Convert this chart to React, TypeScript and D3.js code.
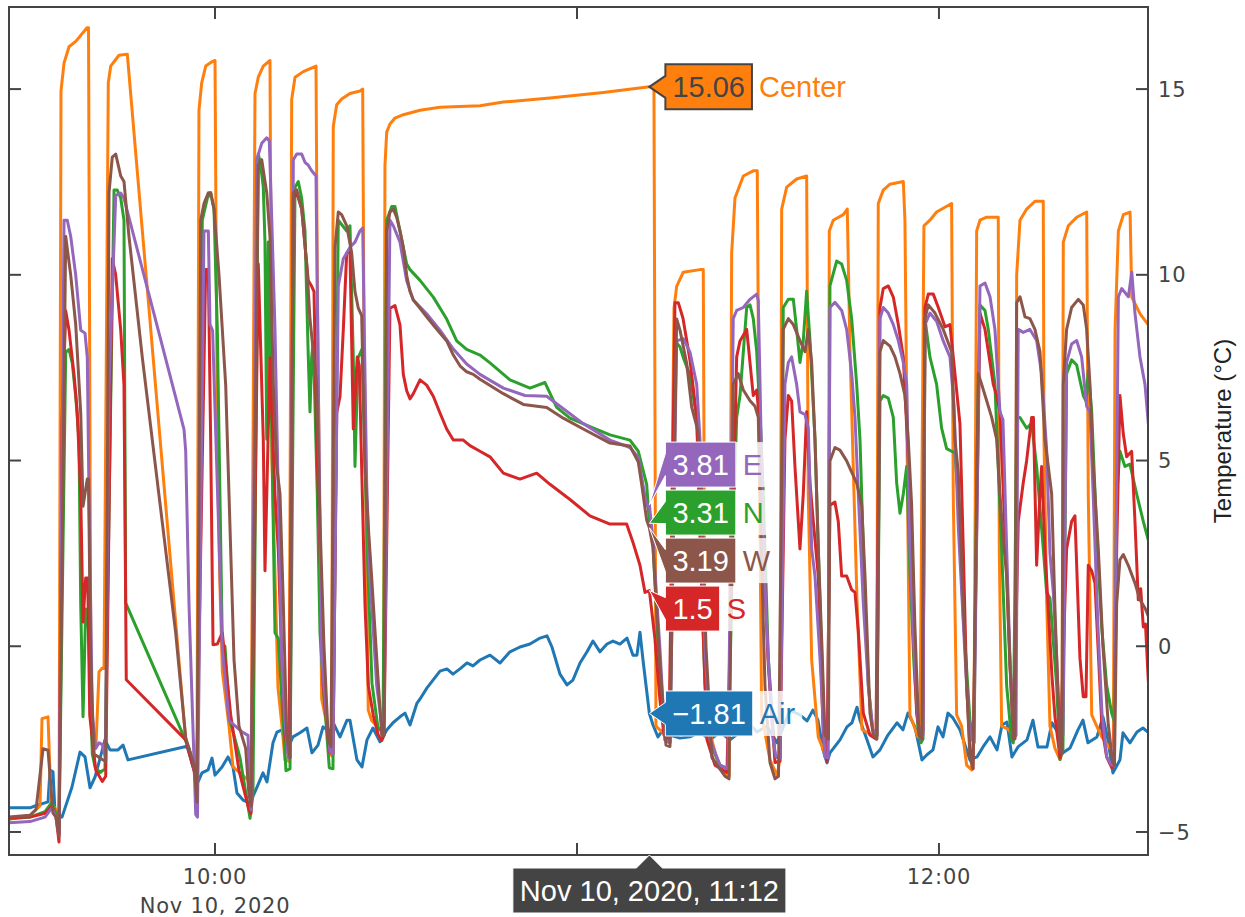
import React, { useMemo } from "react";
import * as d3 from "d3";

// ---- readings: [minutes after 09:00, °C] ----
const airReadings: [number, number][] = [
  [25.85,-4.35],[29.33,-4.35],[30.16,-4.3],[32.32,-4.19],[32.65,-3.33],[33.14,-3.38],[33.48,-4.49],[34.64,-4.6],[36.29,-3.79],[37.62,-2.85],[38.45,-2.98],[39.28,-3.81],[40.11,-3.52],[41.76,-2.52],[42.59,-2.79],[43.92,-2.79],[44.75,-2.66],[45.58,-3.06],
  [55.36,-2.69],[56.35,-3.25],[57.18,-3.65],[57.84,-3.41],[58.84,-3.33],[59.5,-3.01],[60,-3.47],[61.16,-3.25],[62.15,-2.98],[62.98,-3.25],[63.64,-3.95],[64.64,-4.14],[65.8,-4.22],[66.96,-3.79],[67.95,-3.41],[68.62,-3.65],[69.61,-2.6],[70.27,-2.31],[71.1,-2.25],[71.93,-2.79],[72.92,-2.44],[74.09,-2.33],[75.24,-2.2],[76.07,-2.87],[77.07,-2.66],[77.9,-2.17],[79.06,-2.31],[79.55,-2.04],[80.72,-2.44],[81.88,-1.99],[82.37,-1.99],[83.53,-3.06],[84.36,-3.25],[85.19,-2.52],[86.18,-2.2],[87.35,-2.57],[88.5,-2.25],[89.5,-2.06],[90.66,-1.9],[91.49,-1.8],[92.32,-2.12],[93.48,-1.53],[93.98,-1.42],[95.14,-1.12],[96.13,-0.91],[97.29,-0.67],[98.45,-0.61],[99.44,-0.75],[100.6,-0.61],[101.77,-0.45],[102.76,-0.53],[103.92,-0.37],[105.58,-0.24],[107.24,-0.45],[108.89,-0.15],[110.55,-0.02],[112.21,0.06],[113.87,0.22],[115.03,0.28],[115.85,-0.02],[117.18,-0.75],[118.34,-1.04],[119.33,-0.91],[120.5,-0.45],[121.66,-0.15],[122.65,0.14],[123.81,-0.15],[124.97,0.06],[125.96,0.14],[127.12,0.06],[128.28,0.22],[129.28,-0.24],[129.94,-0.24],[130.44,0.38],[130.94,-0.37],[132,-1.81],[132.6,-2.12],[133.42,-2.44],[134.25,-2.25],[135.41,-2.39],[137.07,-2.47],[138.73,-2.44],[140.39,-2.31],[142.04,-2.52],[143.7,-2.31],[145.36,-2.52],[147.02,-2.31],[148.17,-2.01],[149.83,-2.31],[151.49,-2.15],[153.15,-2.6],[155.3,-1.72],[156.96,-1.85],[158.12,-2.01],[159.11,-1.72],[159.94,-1.99],[160.77,-2.79],[161.44,-3.14],[161.93,-2.87],[163.59,-2.52],[164.75,-2.17],[165.58,-2.06],[166.41,-1.64],[166.91,-1.99],[168.07,-2.52],[169.06,-2.98],[170.22,-2.79],[171.54,-2.39],[173.04,-2.06],[174.03,-2.25],[174.86,-1.8],[176.02,-2.17],[177.18,-3.06],[178.01,-2.92],[179.01,-2.79],[179.84,-2.17],[180.67,-2.44],[181.49,-1.8],[182.32,-1.93],[183.48,-2.25],[185.14,-3.06],[186.3,-2.98],[187.3,-2.71],[188.46,-2.44],[189.62,-2.79],[190.45,-2.12],[191.27,-2.04],[192.1,-2.98],[193.1,-2.71],[194.59,-2.52],[195.58,-1.99],[196.41,-2.71],[197.9,-2.71],[198.73,-2.06],[199.73,-2.33],[200.56,-2.87],[201.72,-2.74],[203.04,-2.25],[203.87,-1.99],[204.7,-2.6],[206.19,-2.44],[207.18,-1.9],[208.01,-2.52],[208.84,-3.41],[210,-3.06],[210.5,-2.33],[211.66,-2.6],[212.82,-2.31],[213.81,-2.2],[214.64,-2.31],
];

const centerReadings: [number, number][] = [
  [25.85,-4.65],[29.33,-4.55],[30.99,-4.3],[31.32,-1.95],[32.32,-1.9],[32.81,-4.2],[33.64,-4.4],[34.14,-5.05],[34.47,14.95],[34.97,15.7],[35.8,16.14],[36.96,16.29],[38.78,16.65],[39.03,16.65],[39.44,-1.99],[40.27,-2.66],[40.77,-0.69],[41.27,-0.59],[41.6,-0.6],[42.31,15.17],[42.71,15.62],[44.08,15.91],[45.46,15.94],
  [55.14,-2.52],[56.13,-2.98],[57.01,-3.3],[57.34,14.43],[57.79,15.17],[58.46,15.62],[59.55,15.74],[60,15.77],[60.38,5.55],[60.78,1.84],[61.21,-0.67],[62.32,-2.15],[62.98,-3.25],[65.46,-3.6],[65.96,-4.14],[66.63,14.88],[67.17,15.32],[68,15.62],[69.11,15.77],[69.44,5],[70.44,-1.12],[71.1,-2.15],[71.6,-3.06],[72.26,-3.1],[72.71,14.72],[73.26,15.32],[74.63,15.47],[76.74,15.62],[76.95,9.99],[77.4,2.59],[77.68,-1.42],[78.4,-2],[79.06,-2.9],[79.34,-2.95],[79.6,13.99],[80.17,14.58],[80.99,14.73],[82.37,14.88],[84.03,14.95],[84.48,15],[84.69,8.51],[85.14,1.84],[85.4,-1.72],[85.97,-2],[86.8,-2.15],[87.63,-2.31],[87.93,-2.2],[88.17,12.95],[88.46,13.84],[89,14.06],[89.83,14.22],[91.21,14.31],[93.98,14.43],[97.29,14.51],[103.92,14.55],[107.79,14.65],[115.52,14.76],[124.36,14.91],[132,15.06],[132.76,15.06],[133.09,-2.15],[134.09,-2.31],[135.41,-2.15],[135.74,4.07],[136.08,9.1],[136.52,9.69],[137.62,10.07],[140.39,10.14],[140.93,10.14],[141.21,-0.37],[142.04,-2.31],[143.42,-3.2],[144.81,-3.49],[145.24,-3.49],[145.64,10.59],[146.19,12.07],[147.57,12.66],[149.22,12.8],[149.88,12.8],[150.12,7.03],[150.61,-1.85],[151.99,-3.06],[153.2,-3.49],[153.65,-3],[153.93,11.77],[154.76,12.36],[156.41,12.58],[158.07,12.66],[158.34,4.07],[158.9,-0.37],[159.99,-2.44],[161.1,-2.9],[161.65,-2.5],[161.82,11.18],[162.48,11.47],[164.14,11.62],[164.8,11.77],[165.25,8],[166.41,1.25],[167.24,-2.24],[168.9,-2.4],[169.68,-2.44],[169.94,11.92],[170.77,12.28],[171.88,12.44],[174.09,12.51],[174.36,11.47],[174.86,3],[175.19,-1.85],[176.52,-2.44],[176.85,-2.44],[177.51,11.32],[178.5,11.47],[179.61,11.69],[182.1,11.92],[182.37,4.07],[182.93,-1.85],[183.76,-2.15],[184.59,-3.2],[185.42,-3.33],[185.8,-2.5],[186.25,11.18],[186.8,11.47],[187.91,11.55],[189.83,11.55],[190,2.59],[190.39,-2.15],[191.49,-2.23],[192.32,-2.44],[192.65,-2.3],[192.88,9.99],[193.43,11.47],[194.54,11.77],[195.91,11.98],[197.29,11.98],[197.41,5.55],[197.85,1.25],[198.4,-2.15],[199.23,-2.75],[200.06,-3.05],[200.39,-2.8],[200.61,10.88],[201.44,11.32],[202.83,11.55],[204.49,11.69],[204.75,4.07],[205.32,-1.85],[206.15,-2.15],[206.98,-2.44],[208.35,-2.75],[208.91,-2.6],[209.19,8.51],[209.74,11.18],[210.57,11.62],[211.68,11.69],[211.96,9.4],[213.34,8.95],[214.71,8.65],
];

const northReadings: [number, number][] = [
  [25.85,-4.65],[29.33,-4.6],[31.82,-4.45],[32.98,-4.2],[33.64,-4.5],[34.14,-5],[35.25,7.91],[35.8,7.99],[36.34,7.62],[36.91,6.73],[37.45,5.55],[37.74,1.11],[38.12,-1.9],[38.56,1],[38.95,0.8],[39.66,-2.9],[40.11,-3.25],[40.94,-3.4],[41.76,-3.3],[43.26,12.28],[43.8,12.28],[44.37,12.06],[44.91,11.47],[45.19,1.17],
  [55.69,-2.75],[56.52,-3.3],[57.01,-3.8],[57.89,11.47],[58.72,12.06],[59.28,12.21],[59.83,11.77],[60.38,8.51],[61.21,0.06],[61.65,0],[62.48,-2],[64.14,-3],[65.8,-4.63],[66.29,-4],[67.17,13.25],[67.57,12.95],[68,12.36],[68.28,10.88],[68.57,5.57],[68.83,10.88],[69.28,7],[69.94,0.36],[70.49,0.2],[71.1,-1.5],[71.76,-3.35],[72.43,-3.3],[73.26,12.36],[73.8,12.51],[74.37,12.06],[74.91,11.18],[75.46,7.79],[75.74,6.31],[76.02,7.79],[76.29,8.2],[76.95,4.1],[77.4,0.36],[77.95,-1.06],[78.94,-3.27],[79.55,-3.3],[80.43,11.47],[81.83,11.18],[82.37,11.32],[82.92,7.79],[83.2,4.84],[83.7,7.76],[84.36,8],[84.86,5],[85.36,2],[86.02,-1],[87.01,-2.2],[87.84,-2.3],[88.46,11.47],[89.29,11.84],[89.83,11.84],[90.66,11.18],[91.77,10.29],[92.32,10.14],[93.98,9.85],[96.18,9.4],[98.4,8.81],[100.06,8.22],[101.71,7.99],[103.92,7.84],[105.58,7.63],[108.89,7.17],[112.21,6.95],[114.69,7.1],[116.63,6.43],[118.84,6.14],[122.15,5.91],[125.47,5.69],[128.78,5.55],[130.16,5.25],[131.55,4.36],[132,3.31],[132.6,2.72],[133.76,-0.9],[134.59,-2.52],[135.41,-2.6],[136.24,8.22],[137.07,8.06],[137.62,7.77],[138.73,7.3],[139.84,6.14],[140.39,3],[141.21,-1],[142.04,-2.6],[143.7,-3.2],[145.03,-3.3],[145.85,3],[146.47,6.16],[147.02,6.75],[148.13,9.12],[148.68,9.19],[149.22,8.82],[149.79,7.93],[150.45,5.87],[150.88,4.1],[151.71,-0.32],[152.82,-2.98],[153.65,-3],[154.19,9.12],[155.03,9.34],[155.86,9.34],[156.41,8.53],[156.96,7.64],[157.51,8.23],[158.07,9.56],[158.62,8.23],[159.45,5.57],[160.28,1.15],[161.1,-2.83],[161.6,-2.9],[161.93,9.7],[163.04,10.37],[163.87,10.29],[164.7,9.85],[165.53,8.82],[166.36,7.05],[166.91,5.57],[167.74,1.15],[168.29,-1.06],[169.01,-2.24],[169.72,-2.4],[170.22,6.6],[170.77,6.75],[171.6,6.68],[172.43,6.16],[172.99,4.4],[173.54,3.58],[174.09,4.1],[174.65,4.84],[175.19,2],[175.86,-0.5],[176.52,-2.2],[177.02,-2.6],[177.35,-2.5],[177.68,8.82],[178.5,7.79],[179.61,7.05],[180.44,5.87],[181.27,5.32],[182.1,5.25],[182.65,5.2],[183.2,4],[184.03,0.8],[185.14,-2],[185.8,-2.6],[186.3,5],[186.8,9.19],[187.63,9.04],[188.18,8.53],[189.28,7.05],[189.78,5],[190.39,2.62],[191.22,-1.06],[192.05,-2.54],[192.32,-2.6],[192.88,6.16],[193.43,6.16],[194.54,5.87],[195.36,6],[196.19,4.84],[197.29,2.62],[197.85,1.45],[198.4,1.3],[199.51,-1.06],[200.06,-3.05],[200.55,-2.8],[201.16,7.34],[201.99,7.71],[202.83,7.57],[203.92,6.75],[204.37,6.6],[204.75,7.42],[205.32,6.31],[206.15,3],[206.98,0.5],[207.8,-1.06],[208.63,-1.8],[209.01,-2],[209.46,4.1],[210,5.25],[210.83,4.84],[211.66,4.9],[212.77,4.1],[213.87,3.36],[214.71,2.85],
];

const southReadings: [number, number][] = [
  [25.85,-4.62],[29.33,-4.6],[31.82,-4.5],[32.98,-4.3],[33.64,-4.6],[34.14,-5.27],[34.64,6],[35.25,9.03],[35.8,8.51],[36.63,7.32],[37.17,6.28],[37.74,4.07],[38.12,0.65],[38.56,1.84],[38.9,1.84],[39.23,-1.85],[40.22,-3.33],[41.32,-3.64],[41.88,-3.5],[42.97,10.43],[43.54,9.99],[44.37,8.51],[44.91,7.03],[45.29,-0.9],
  [55.14,-2.52],[56.52,-3.34],[56.93,-3.8],[58.45,10.14],[58.89,10.14],[59.28,5.55],[59.67,0.04],[60.38,0.06],[61.21,0.36],[62.6,-1.85],[63.97,-3.34],[65.63,-4.4],[65.96,-4.5],[67.17,10.29],[68,5.57],[68.28,2.03],[69.11,7.77],[69.94,4.07],[70.49,2.59],[71.05,-0.32],[71.6,-2.39],[72.26,-3],[72.98,12.06],[73.54,12.21],[74.37,11.77],[75.2,10.29],[75.46,9.85],[76.02,9.69],[76.41,9.55],[76.85,5.57],[77.4,2.62],[77.95,-1.06],[78.94,-2.84],[79.55,-2.9],[80.17,6.28],[80.72,6.73],[81.26,8.51],[81.83,10.59],[82.37,10.65],[82.92,5.85],[83.58,7.79],[83.92,7.55],[84.31,4.8],[84.86,1.12],[85.41,-1.06],[86.23,-1.86],[87.06,-2.39],[87.63,-2.54],[88.01,-2.4],[89,9.1],[89.83,9.17],[90.66,8.65],[91.21,7.32],[91.77,6.88],[92.32,6.66],[92.87,6.8],[93.98,7.17],[95.08,7.03],[96.18,6.73],[97.29,6.28],[98.4,5.85],[99.5,5.55],[101.15,5.55],[102.26,5.4],[103.92,5.25],[105.58,5.1],[107.79,4.66],[110.55,4.5],[113.32,4.66],[115.52,4.36],[118.84,3.95],[122.15,3.51],[125.47,3.29],[128.23,3.29],[129.33,2.77],[130.44,2.18],[131.27,1.45],[132,1.5],[132.92,0.2],[133.75,-1.44],[134.42,-2.4],[135.25,-2.5],[136.24,9.25],[136.79,9.25],[137.57,8.83],[138.73,7.7],[139.89,6.09],[140.72,1.25],[141.55,-2.52],[142.87,-3.2],[144.86,-3.4],[146.47,7.79],[147.02,8.22],[148.13,8.53],[149.22,6.75],[149.79,6.9],[150.34,5.87],[150.88,2.62],[151.71,-0.5],[152.82,-3.13],[153.65,-3.1],[154.47,5.57],[155.03,6.75],[155.58,6.6],[156.13,4.84],[156.96,2.62],[157.51,4.1],[158.07,6.31],[158.62,4.4],[159.17,3.36],[160,1.89],[160.82,-2.39],[161.44,-3.1],[161.93,3.8],[162.76,3.88],[163.31,3.36],[163.87,1.89],[164.7,1.89],[165.53,1.52],[166.08,1.45],[166.63,0.41],[167.46,-1.8],[168.56,-2.39],[169.56,-2.5],[170.22,9.12],[170.77,9.63],[171.6,9.7],[172.43,9.4],[173.26,8.66],[174.09,7.79],[175.19,4.1],[175.74,0.41],[176.3,-1.8],[176.85,-2.39],[177.35,-2.3],[177.68,9.12],[178.23,9.48],[179.06,9.48],[179.89,9.12],[181,8.6],[181.82,8.66],[182.37,7.79],[183.48,5.99],[184.03,2.62],[184.59,-1.06],[185.14,-2.75],[185.64,-3.3],[186.8,8.97],[187.63,8.53],[188.46,7.64],[189,7.05],[189.57,6.75],[190.11,6.31],[191.22,2.03],[191.77,-0.5],[192.43,-2.3],[193.14,3.36],[193.97,4.4],[194.53,4.99],[195.36,6.16],[195.66,6.16],[196.19,2.18],[196.74,4.1],[197.02,4.84],[197.57,2.62],[198.12,1],[198.73,-0.8],[199.23,-1.9],[200.06,-3],[201.16,2.62],[201.99,3.36],[202.54,3.51],[203.37,-0.32],[203.92,-1.36],[204.37,-1.36],[204.75,2.18],[205.32,2.03],[205.86,1.7],[206.36,0],[207.02,-2.2],[207.8,-2.98],[208.63,-3.27],[209.01,-3.2],[209.46,2.62],[210,6.75],[210.55,5.72],[211.11,5.1],[211.94,5.25],[212.49,3.36],[213.04,1.25],[213.44,1.55],[213.87,0.52],[214.23,0.6],[214.71,-0.96],
];

const eastReadings: [number, number][] = [
  [25.85,-4.75],[29.33,-4.72],[31.82,-4.6],[32.98,-4.35],[33.64,-4.6],[34.14,-5.1],[34.97,11.47],[35.51,11.47],[36.08,11.03],[36.91,9.99],[37.74,8.51],[38.45,8.43],[38.83,7.77],[39.11,4.07],[39.66,-1.85],[40.22,-2.75],[40.77,-2.6],[41.32,-2.65],[41.85,-3],[42.43,7],[43.54,12.14],[44.37,12.2],[44.91,12.06],
  [54.86,5.84],[55.14,5.25],[55.69,1.11],[56.8,-4.53],[57.09,-4.6],[58.17,11.18],[58.89,11.18],[59.17,8.66],[59.6,8.5],[61.21,-0.07],[62.32,-2],[64.52,-2.31],[65.46,-2.4],[65.96,-4.4],[66.91,13.1],[67.74,13.54],[68.57,13.69],[69,13.6],[69.41,11.47],[69.94,8.51],[70.49,4.07],[71.05,-0.32],[71.6,-2.1],[72.15,-3],[72.43,-3],[72.98,13.1],[73.54,13.25],[74.37,13.25],[74.91,13.03],[75.46,12.95],[76.02,12.8],[76.74,12.66],[77.12,7.05],[77.68,-0.32],[78.51,-1.96],[79.06,-2.84],[79.55,-2.9],[80.43,9.69],[81.26,10.43],[82.37,10.74],[83.2,10.88],[84.03,11.18],[84.48,11.26],[85.14,4.36],[85.69,1.84],[86.8,-1.06],[87.63,-2.1],[88.01,-2.1],[89,11.47],[89.55,11.32],[90.66,10.88],[91.77,9.84],[92.87,9.32],[95.08,8.95],[97.29,8.51],[99.5,8],[101.71,7.6],[103.92,7.32],[107.79,6.95],[111.38,6.75],[114.98,6.73],[117.68,6.4],[120.99,6],[125.47,5.55],[128.78,5.35],[130.16,5.09],[131.55,3.77],[132,3.81],[132.6,2.86],[133.76,-0.1],[134.59,-2.52],[135.41,-2.6],[136.52,8.22],[137.62,8.28],[138.73,7.92],[139.84,7.05],[140.39,5.57],[141.21,0],[142.04,-2.5],[143.7,-3.2],[145.03,-3.3],[145.9,8.82],[146.47,9.04],[147.57,9.12],[148.68,9.34],[149.79,9.48],[150.05,9.3],[150.34,7.05],[150.88,2.62],[151.71,-0.32],[152.53,-2.54],[152.98,-2.98],[153.65,-3],[154.47,7.05],[155.03,7.64],[155.58,7.79],[156.41,7.05],[156.96,6.31],[157.79,6.24],[158.34,5.87],[158.9,2.62],[159.45,1.89],[160.28,-0.32],[161.1,-2.98],[161.6,-3],[161.93,9.12],[162.76,9.26],[163.87,9.04],[164.7,8.53],[165.53,7.35],[166.08,6.16],[166.63,4.1],[167.46,1.15],[168.29,-1.06],[169.01,-2.24],[169.72,-2.4],[170.22,8.82],[170.77,9.12],[171.6,8.97],[172.43,8.66],[173.26,8.23],[174.09,7.64],[174.65,7.05],[175.19,2.62],[175.77,0.2],[176.52,-2],[177.02,-2.5],[177.35,-2.4],[177.68,8.66],[178.5,8.97],[179.61,8.75],[180.71,8.22],[181.82,7.79],[182.49,6.5],[183.2,3.22],[184.59,-1.06],[185.14,-2.4],[185.8,-2.6],[186.8,9.7],[187.63,9.78],[188.46,9.41],[189.28,8.53],[190.11,6.31],[190.61,6.1],[191.22,2.62],[191.77,-0.32],[192.32,-2.5],[192.77,-2.4],[193.14,8.53],[193.97,8.45],[195.08,8.53],[196.19,8.23],[197.02,7.34],[197.85,5.28],[198.4,2.5],[198.95,1.45],[199.51,-0.32],[200.06,-2.4],[200.55,-2.4],[201.16,7.64],[201.99,8.14],[202.83,8.23],[203.65,7.79],[204.48,6.46],[205.03,6.31],[205.58,4],[206.36,0.5],[207.02,-1.8],[207.8,-2.98],[208.63,-3.2],[209.01,-3.2],[209.74,9.41],[210.29,9.63],[211.4,9.41],[211.96,10.07],[212.49,8.97],[213.32,7.79],[214.15,7.05],[214.71,5.99],
];

const westReadings: [number, number][] = [
  [25.85,-4.6],[29.33,-4.55],[30.33,-4.4],[31.49,-2.76],[32.32,-2.8],[33.14,-4.49],[33.64,-4.6],[34.14,-5.1],[35.25,11.03],[36.08,9.99],[36.91,8.66],[37.74,6.28],[38.12,3.77],[38.83,4.5],[39.03,4.5],[39.39,-0.37],[39.94,-2.9],[41.32,-3.05],[41.88,-3.1],[42.43,12.21],[42.97,13.17],[43.54,13.25],[44.37,12.66],[44.91,12.51],[45.74,11.03],[47.95,7.77],[50.71,4.07],[53.48,0.36],
  [55.14,-2.46],[56.52,-3.2],[57.01,-4.2],[57.63,11.47],[58.17,11.92],[58.89,12.21],[59.28,12.21],[59.83,11.77],[60.66,9.99],[61.77,7.03],[62.32,4.07],[63.15,-0.37],[63.97,-2.15],[65.08,-2.75],[65.63,-4],[65.96,-4.3],[67.17,12.95],[67.74,13.1],[68.57,12.21],[69.11,11.03],[69.66,7.05],[70.22,4.84],[70.77,4.1],[71.32,1.15],[71.88,-2.39],[72.43,-3],[72.98,12.21],[73.54,12.29],[74.37,11.77],[75.2,10.29],[75.74,8.81],[76.29,7.93],[76.85,7.05],[77.4,3.36],[78.06,0],[78.78,-2.54],[79.22,-2.7],[79.89,10.74],[80.43,11.69],[80.99,11.62],[81.83,11.32],[82.65,10.59],[83.2,9.55],[83.75,9.1],[84.31,8.9],[84.86,4.8],[85.41,3.2],[85.97,1.84],[86.8,-0.32],[87.63,-2.39],[88.01,-2.4],[88.46,11.18],[89,11.69],[89.55,11.77],[90.11,11.55],[90.66,11.18],[91.21,10.74],[91.77,9.99],[92.32,9.55],[92.87,9.32],[93.98,9.1],[95.08,8.87],[96.18,8.65],[97.29,8.43],[98.4,8.22],[99.5,7.84],[100.6,7.55],[101.71,7.39],[102.81,7.32],[103.92,7.19],[107.79,6.8],[111.1,6.51],[114.98,6.43],[117.73,6.14],[121.04,5.85],[125.47,5.47],[128.78,5.39],[130.16,4.96],[130.72,4.36],[131.55,3.4],[132,3.19],[132.6,2.65],[133.76,-0.5],[134.75,-2.66],[135.41,-2.7],[136.52,8.81],[137.07,8.51],[138.18,7.62],[139.01,6.44],[140.05,5.8],[140.72,4],[141.38,0],[142.37,-3],[144.53,-3.5],[145.2,-3.57],[145.9,7.05],[146.73,7.34],[147.57,6.9],[148.68,6.61],[149.51,6.46],[150.05,6.16],[150.5,3],[151.16,-1.06],[151.99,-3.13],[152.82,-3.57],[153.4,-3.5],[154.19,8.53],[155.03,8.82],[155.86,8.66],[156.96,8.23],[157.79,7.93],[158.34,8.53],[158.9,7.64],[159.45,5.57],[160,2.62],[160.6,0],[161.1,-2.39],[161.68,-2.5],[161.93,4.99],[162.76,5.35],[163.59,5.28],[164.7,4.99],[165.53,4.69],[166.36,4.4],[167.19,3.8],[167.74,1.89],[168.56,-1.8],[169.11,-2.39],[169.72,-2.5],[170.22,7.93],[170.77,8.23],[171.88,8.08],[172.71,7.79],[173.54,7.34],[174.36,6.75],[174.91,5.57],[175.47,3.8],[176.02,0.5],[176.68,-2.4],[177.18,-2.5],[177.68,8.82],[178.23,9.19],[179.34,8.97],[180.71,8.53],[182.1,7.93],[182.65,5.57],[183.2,4.69],[183.81,2],[184.59,-1],[185.14,-3],[185.64,-3.3],[186.52,7.34],[187.08,7.05],[187.91,6.61],[188.74,6.16],[189.57,5.57],[190.11,4.1],[190.61,3],[191.22,1.89],[191.77,-0.5],[192.32,-2.5],[192.6,-2.5],[192.88,9.25],[193.43,9.41],[194.26,8.87],[195.08,8.82],[195.91,8.53],[196.74,7.93],[197.57,5.57],[198.12,4.84],[198.68,4.1],[199.23,1],[200.06,-2.8],[200.39,-2.9],[200.61,7.05],[201.16,8.53],[201.99,9.12],[203.09,9.34],[203.92,9.19],[204.48,8.53],[205.03,7.05],[205.58,4.84],[206.41,2.62],[207.18,0],[208.06,-2.1],[208.79,-3.13],[209.09,-3.2],[209.46,1.15],[210,2.33],[210.55,2.47],[211.38,2.18],[212.49,1.7],[213.32,1.25],[214.15,1.03],[214.71,0.81],
];

const seriesNames = ["Air", "Center", "N", "S", "E", "W"];
const seriesColors = ["#1f77b4", "#ff7f0e", "#2ca02c", "#d62728", "#9467bd", "#8c564b"];
const seriesReadings = [airReadings, centerReadings, northReadings, southReadings, eastReadings, westReadings];

const tempTicks = [-5, 0, 5, 10, 15];
const timeTicks = [60, 120, 180]; // 10:00, 11:00, 12:00
const timeWindow = [25.85, 214.65];
const tempWindow = [-5.62, 17.21];
const hoverMinute = 132; // 11:12

const dayStart = new Date(2020, 10, 10, 9, 0, 0).getTime();
const toDate = (m: number) => new Date(dayStart + m * 60000);

const W = 1245;
const H = 917;
const frame = { left: 9, right: 1148, top: 7, bottom: 855 };

const tickFont = "'DejaVu Sans', Verdana, sans-serif";
const hoverFont = "'Liberation Sans', Arial, sans-serif";
const HOVER_SIZE = 29;
const TICK_SIZE = 21;

function measure(text: string, size: number, family: string, spacing = 0) {
  const ctx = document.createElement("canvas").getContext("2d");
  if (!ctx) return text.length * size * 0.55;
  ctx.font = `${size}px ${family}`;
  return ctx.measureText(text).width + spacing * text.length;
}

const fmtValue = (v: number) => {
  const s = String(+v.toFixed(2));
  return s.startsWith("-") ? "\u2212" + s.slice(1) : s;
};

export default function App() {
  const x = d3.scaleTime().domain(timeWindow.map(toDate)).range([frame.left, frame.right]);
  const y = d3.scaleLinear().domain(tempWindow).range([frame.bottom, frame.top]);

  const line = d3
    .line<[number, number]>()
    .x((d) => x(toDate(d[0])))
    .y((d) => y(d[1]));

  const hx = x(toDate(hoverMinute));

  const labels = useMemo(() => {
    const boxH = 45;
    const pitch = boxH + 3;
    const pad = 7;
    const items = seriesNames.map((name, i) => {
      const hit = seriesReadings[i].find((d) => d[0] === hoverMinute)!;
      const value = hit[1];
      const valueText = fmtValue(value);
      return {
        name,
        color: seriesColors[i],
        dataY: y(value),
        cy: y(value),
        valueText,
        boxW: measure(valueText, HOVER_SIZE, hoverFont) + 2 * pad,
        nameW: measure(name, HOVER_SIZE, hoverFont) + 2 * pad,
        light: name === "Center",
      };
    });
    items.sort((a, b) => a.dataY - b.dataY);
    // push overlapping labels apart, each cluster centred on its mean
    let groups = items.map((it) => [it]);
    const place = (g: typeof items) => {
      const mean = d3.mean(g, (d) => d.dataY)!;
      g.forEach((d, k) => (d.cy = mean + (k - (g.length - 1) / 2) * pitch));
    };
    let merged = true;
    while (merged) {
      merged = false;
      groups.forEach(place);
      for (let i = 0; i < groups.length - 1; i++) {
        const a = groups[i][groups[i].length - 1];
        const b = groups[i + 1][0];
        if (b.cy - a.cy < pitch) {
          groups = [...groups.slice(0, i), [...groups[i], ...groups[i + 1]], ...groups.slice(i + 2)];
          merged = true;
          break;
        }
      }
    }
    return { items, boxH, pad };
  }, []);

  const A = 16; // arrow length
  const B = 11; // arrow half-base

  const timeLabel = d3.timeFormat("%b %-d, %Y, %H:%M")(toDate(hoverMinute));
  const timeLabelW = measure(timeLabel, HOVER_SIZE, hoverFont) + 14;

  // tick labels sitting under the time hover box are hidden by it
  const hidden = (m: number) => {
    const tx = x(toDate(m));
    const half = measure(d3.timeFormat("%H:%M")(toDate(m)), TICK_SIZE, tickFont, 0.8) / 2;
    return tx + half > hx - timeLabelW / 2 && tx - half < hx + timeLabelW / 2;
  };

  return (
    <div style={{ position: "absolute", left: 0, top: 0 }}>
      <svg width={W} height={H} style={{ display: "block", background: "#fff" }}>
        <defs>
          <clipPath id="plot-clip">
            <rect x={frame.left} y={frame.top} width={frame.right - frame.left} height={frame.bottom - frame.top} />
          </clipPath>
        </defs>
        <rect width={W} height={H} fill="#fff" />

        <g clipPath="url(#plot-clip)">
          {seriesReadings.map((data, i) => (
            <path
              key={seriesNames[i]}
              d={line(data) || ""}
              fill="none"
              stroke={seriesColors[i]}
              strokeWidth={3}
              strokeLinejoin="round"
              strokeLinecap="round"
            />
          ))}
        </g>

        {/* frame and mirrored inside ticks */}
        <rect
          x={frame.left}
          y={frame.top}
          width={frame.right - frame.left}
          height={frame.bottom - frame.top}
          fill="none"
          stroke="#444"
          strokeWidth={2}
        />
        {tempTicks.map((t) => (
          <g key={"yt" + t} stroke="#444" strokeWidth={2}>
            <line x1={frame.right - 12} x2={frame.right} y1={y(t)} y2={y(t)} />
            <line x1={frame.left} x2={frame.left + 12} y1={y(t)} y2={y(t)} />
          </g>
        ))}
        {timeTicks.map((m) => (
          <g key={"xt" + m} stroke="#444" strokeWidth={2}>
            <line x1={x(toDate(m))} x2={x(toDate(m))} y1={frame.bottom - 12} y2={frame.bottom} />
            <line x1={x(toDate(m))} x2={x(toDate(m))} y1={frame.top} y2={frame.top + 12} />
          </g>
        ))}

        {/* tick labels */}
        {tempTicks.map((t) => (
          <text
            key={"yl" + t}
            x={frame.right + 10}
            y={y(t) + 7.6}
            fontFamily={tickFont}
            fontSize={TICK_SIZE}
            letterSpacing={0.8}
            fill="#444"
          >
            {t < 0 ? "\u2212" + Math.abs(t) : String(t)}
          </text>
        ))}
        {timeTicks.map((m, i) =>
          hidden(m) ? null : (
            <text
              key={"xl" + m}
              x={x(toDate(m))}
              y={884}
              textAnchor="middle"
              fontFamily={tickFont}
              fontSize={TICK_SIZE}
              letterSpacing={0.8}
              fill="#444"
            >
              {d3.timeFormat("%H:%M")(toDate(m))}
              {i === 0 && (
                <tspan x={x(toDate(m))} dy={28.5}>
                  {d3.timeFormat("%b %-d, %Y")(toDate(m))}
                </tspan>
              )}
            </text>
          )
        )}

        <text
          transform={`translate(1222, ${(frame.top + frame.bottom) / 2}) rotate(-90)`}
          textAnchor="middle"
          dominantBaseline="central"
          fontFamily={hoverFont}
          fontSize={24}
          fill="#222"
        >
          Temperature (°C)
        </text>

        {/* hover labels at 11:12 */}
        {labels.items.map((it) => {
          const off = it.cy - it.dataY;
          const { boxH, pad } = labels;
          const path = `M0,0L${A},${off + B}V${off + boxH / 2}h${it.boxW}v${-boxH}H${A}V${off - B}Z`;
          return (
            <g key={"hl" + it.name} transform={`translate(${hx},${it.dataY})`}>
              <rect
                x={A + it.boxW}
                y={off - boxH / 2}
                width={it.nameW}
                height={boxH}
                fill="#fff"
                fillOpacity={0.8}
              />
              <path d={path} fill={it.color} stroke={it.light ? "#444" : "#fff"} strokeWidth={it.light ? 2 : 1} />
              <text
                x={A + pad}
                y={off}
                dy="0.36em"
                fontFamily={hoverFont}
                fontSize={HOVER_SIZE}
                fill={it.light ? "#444" : "#fff"}
              >
                {it.valueText}
              </text>
              <text
                x={A + it.boxW + pad}
                y={off}
                dy="0.36em"
                fontFamily={hoverFont}
                fontSize={HOVER_SIZE}
                fill={it.color}
              >
                {it.name}
              </text>
            </g>
          );
        })}

        <g transform={`translate(${hx},${frame.bottom})`}>
          <path
            d={`M0,0L13,13H${timeLabelW / 2}v45H${-timeLabelW / 2}V13H-13Z`}
            fill="#444"
            stroke="#fff"
            strokeWidth={1}
          />
          <text
            x={0}
            y={13 + 22.5}
            dy="0.36em"
            textAnchor="middle"
            fontFamily={hoverFont}
            fontSize={HOVER_SIZE}
            fill="#fff"
          >
            {timeLabel}
          </text>
        </g>
      </svg>
    </div>
  );
}
